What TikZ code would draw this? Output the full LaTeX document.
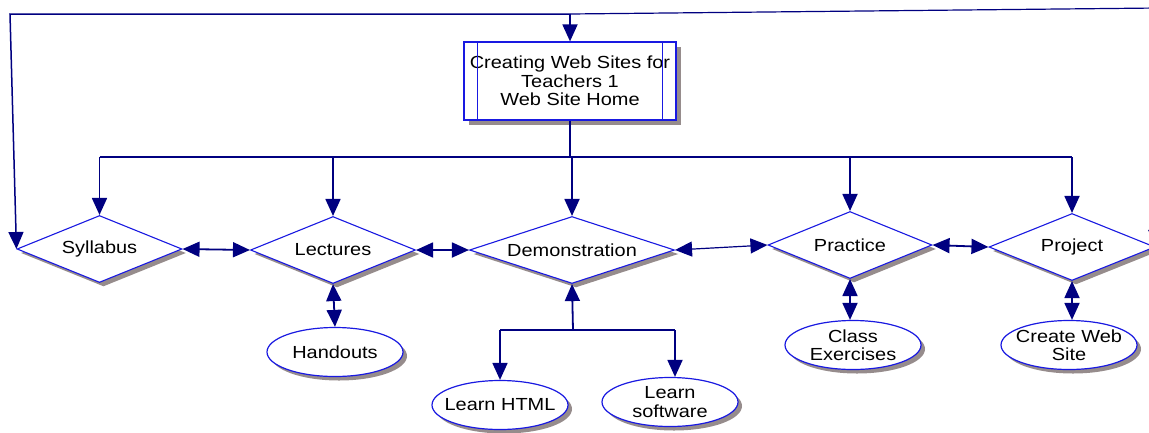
\documentclass[tikz,border=0pt]{standalone}
\usepackage{fontspec}
\setmainfont{Liberation Sans}[FakeStretch=1.14]
\usetikzlibrary{arrows.meta, shapes.geometric, shadows}

\definecolor{linknavy}{RGB}{0,0,128}
\definecolor{edgeblue}{RGB}{25,25,225}
\definecolor{shadegrey}{RGB}{150,140,140}

\tikzset{
  homebox/.style={rectangle, draw=edgeblue, line width=1.2pt, fill=white,
    minimum width=212pt, minimum height=78pt, inner sep=0pt, align=center,
    drop shadow={shadow xshift=5pt, shadow yshift=-5pt, fill=shadegrey, opacity=1}},
  choice/.style={diamond, draw=edgeblue, line width=1.1pt, fill=white,
    aspect=3, inner sep=0pt, minimum height=67pt,
    drop shadow={shadow xshift=4pt, shadow yshift=-4pt, fill=shadegrey, opacity=1}},
  task/.style={ellipse, draw=edgeblue, line width=1.2pt, fill=white, align=center,
    inner xsep=-16pt, inner ysep=-3pt, minimum width=136pt, minimum height=49pt,
    drop shadow={shadow xshift=4pt, shadow yshift=-4pt, fill=shadegrey, opacity=1}},
  link/.style={draw=linknavy, line width=1.8pt},
  onehead/.style={-{Triangle[length=17pt,width=15pt]}},
  twohead/.style={{Triangle[length=17pt,width=15pt]}-{Triangle[length=17pt,width=15pt]}},
}

\begin{document}
\begin{tikzpicture}[x=1pt, y=-1pt, font=\fontsize{17.5}{18.5}\selectfont]
  \useasboundingbox (0,0) rectangle (1149,432);

  % Home page
  \node[homebox] (home) at (570,81) {Creating Web Sites for\\Teachers 1\\Web Site Home};
  \draw[edgeblue, line width=1.2pt] ([xshift=14pt]home.north west) -- ([xshift=14pt]home.south west);
  \draw[edgeblue, line width=1.2pt] ([xshift=-14pt]home.north east) -- ([xshift=-14pt]home.south east);

  % Main sections
  \node[choice, minimum width=165pt] (syl) at (99.5,249) {Syllabus};
  \node[choice, minimum width=165pt] (lec) at (333,250) {Lectures};
  \node[choice, minimum width=205pt] (demo) at (572,250) {Demonstration};
  \node[choice, minimum width=164pt] (prac) at (850,245) {Practice};
  \node[choice, minimum width=166pt] (proj) at (1072,247) {Project};

  % Sub pages
  \node[task] (hand) at (335,352) {Handouts};
  \node[task] (html) at (500,405) {Learn HTML};
  \node[task] (soft) at (670,402) {Learn\\software};
  \node[task] (exer) at (853,345) {Class\\Exercises};
  \node[task] (site) at (1069,345) {Create Web\\Site};

  % Return route along the top
  \coordinate (tl) at (10,14);
  \coordinate (tm) at (570,14);
  \coordinate (tr) at (1158,8);
  \draw[link, line width=1.5pt, onehead] (tm) -- (tl) -- (syl.west);
  \draw[link, line width=1.2pt, onehead] (tm) -- (tr) -- (proj.east);
  \draw[link, onehead] (tm) -- (home.north);

  % Bus to the sections
  \coordinate (bus) at (570,157);
  \draw[link, line width=2.5pt] (home.south) -- (bus);
  \draw[link, line width=2.5pt] (syl.north |- bus) -- (proj.north |- bus);
  \foreach \n in {syl, lec, demo, prac, proj}
    \draw[link, onehead] (\n.north |- bus) -- (\n.north);

  % Between sections
  \draw[link, twohead] (syl.east) -- (lec.west);
  \draw[link, twohead] (lec.east) -- (demo.west);
  \draw[link, line width=1.2pt, twohead] (demo.east) -- (prac.west);
  \draw[link, twohead] (prac.east) -- (proj.west);

  % Sections to sub pages
  \draw[link, twohead] (lec.south) -- (hand.north);
  \draw[link, twohead] (prac.south) -- (prac.south |- exer.north);
  \draw[link, twohead] (proj.south) -- (proj.south |- site.north);

  % Demonstration fork
  \coordinate (fork) at (573,330);
  \coordinate (forkr) at (675,330);
  \draw[link, onehead] (fork) -- (demo.south);
  \draw[link] (html.north |- fork) -- (forkr);
  \draw[link, onehead] (html.north |- fork) -- (html.north);
  \draw[link, onehead] (forkr) -- (forkr |- soft.north);
\end{tikzpicture}
\end{document}
